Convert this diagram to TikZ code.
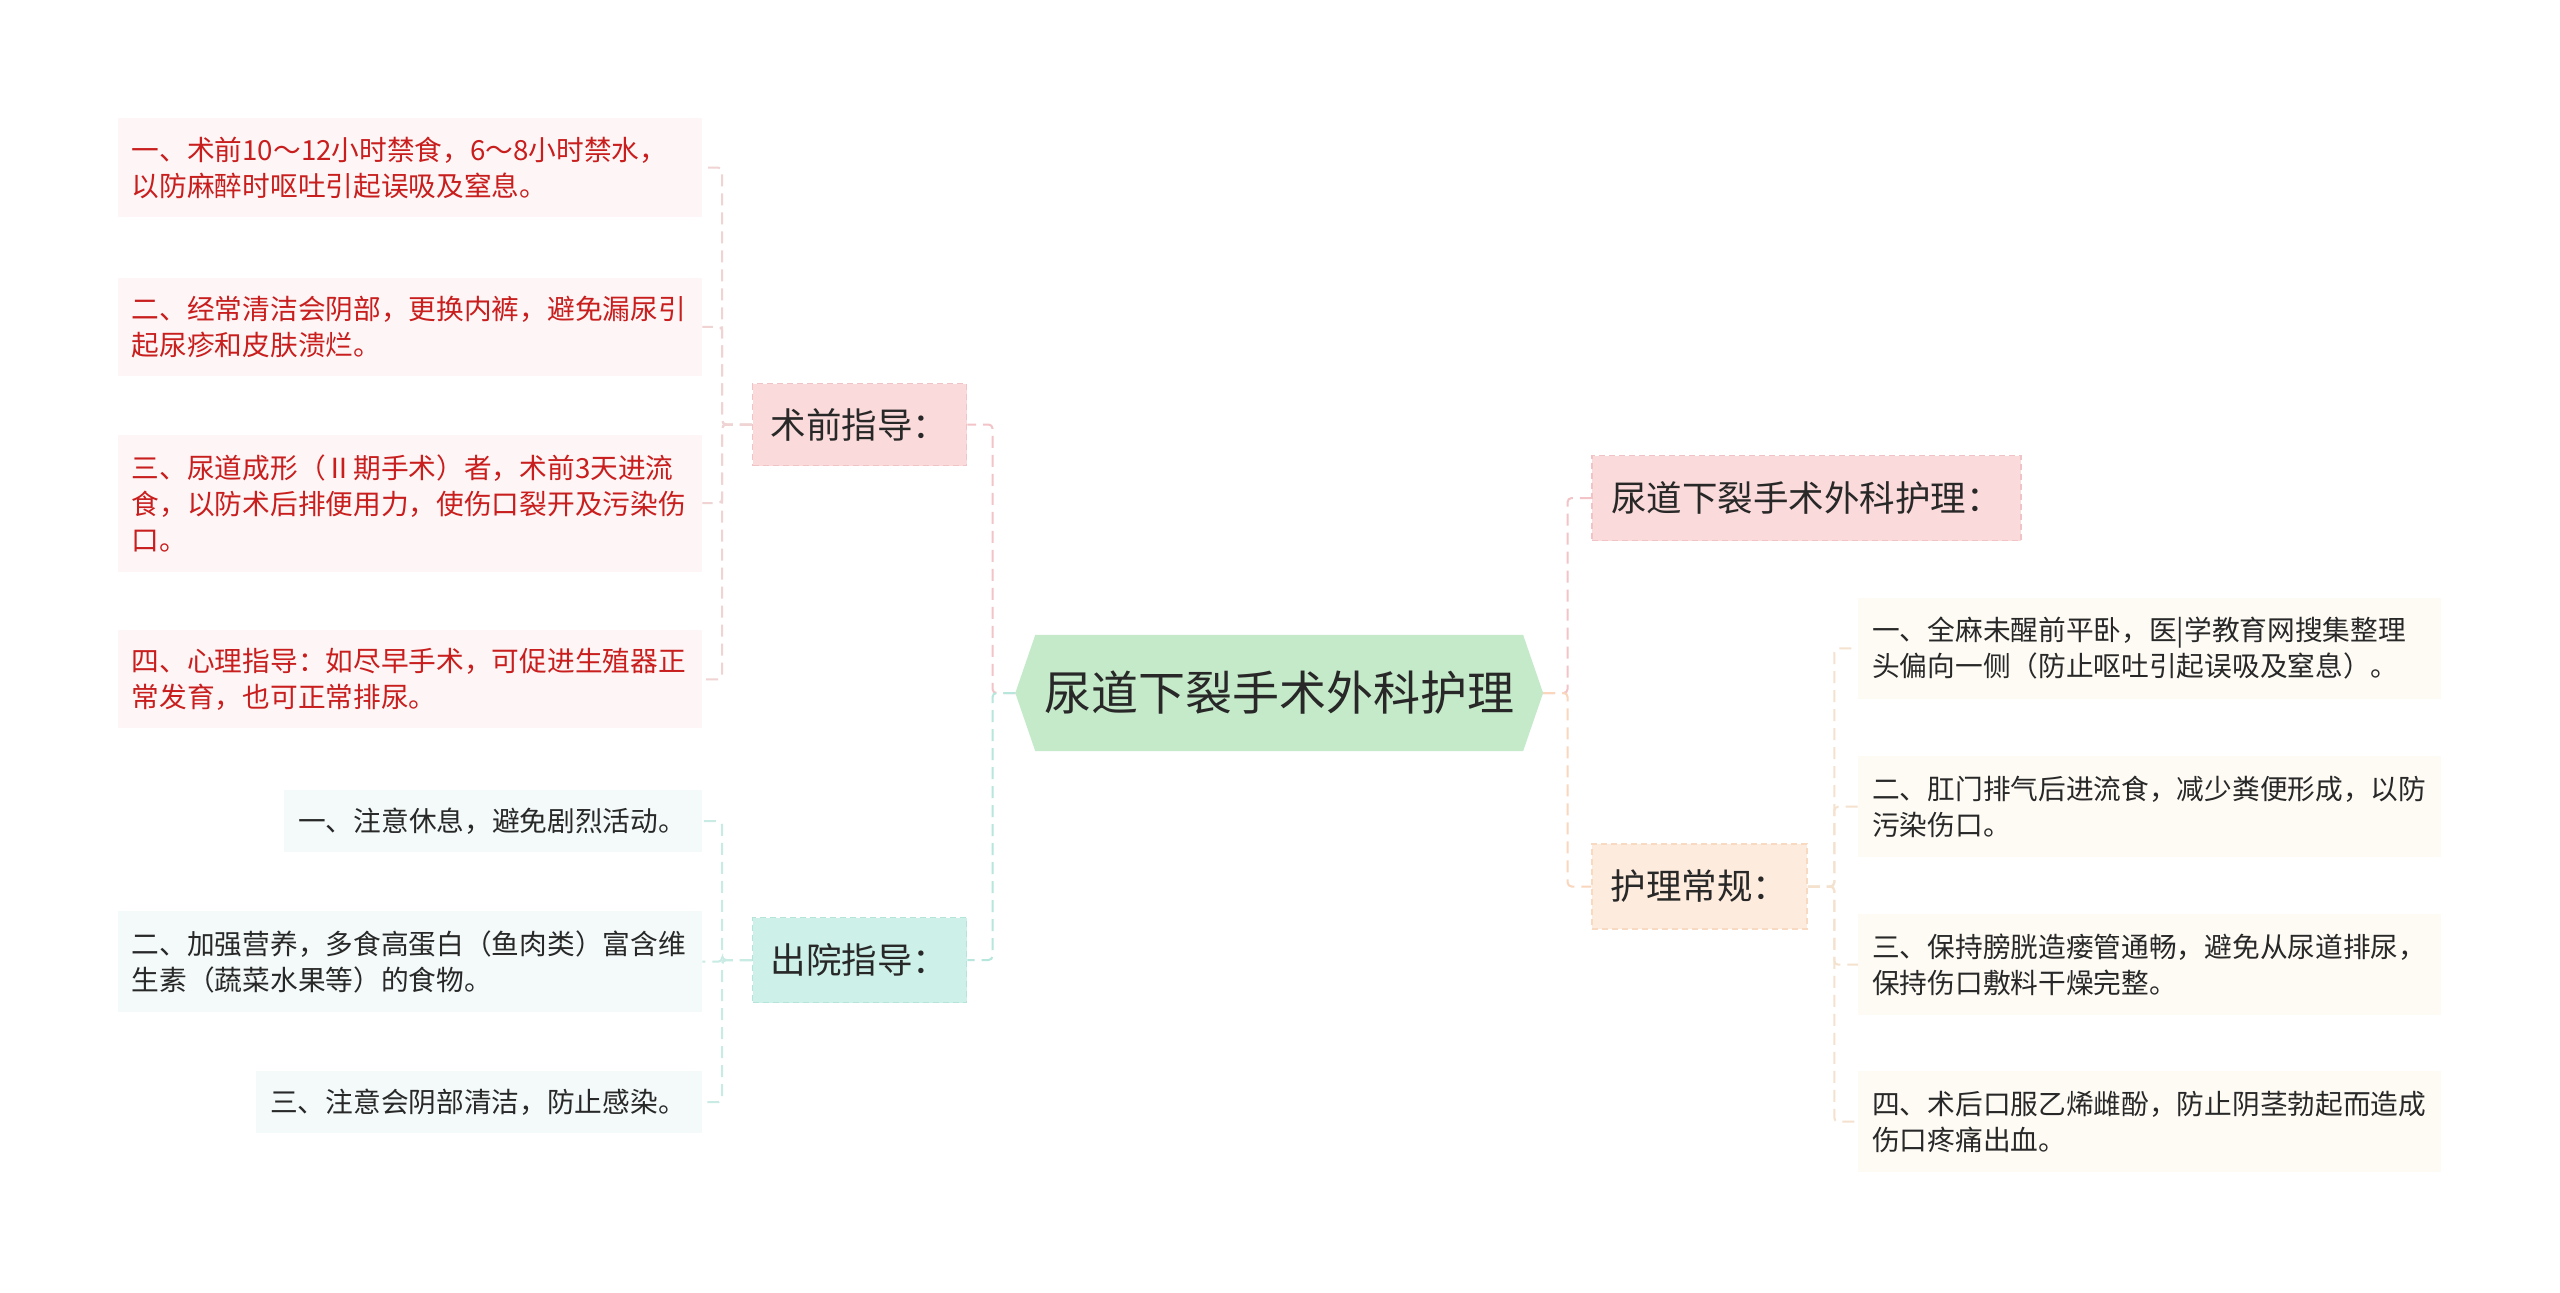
\documentclass[tikz,border=0pt]{standalone}
\usepackage{fontspec}
\setmainfont{Noto Sans CJK SC}
\usetikzlibrary{calc}
\pgfdeclarelayer{bg}
\pgfsetlayers{bg,main}
\definecolor{txtdark}{RGB}{40,40,40}
\definecolor{txtred}{RGB}{200,30,30}
\definecolor{pinkfill}{RGB}{250,218,218}
\definecolor{pinkedge}{RGB}{240,196,198}
\definecolor{pinkitem}{RGB}{254,246,246}
\definecolor{greenfill}{RGB}{197,234,201}
\definecolor{tealfill}{RGB}{205,240,232}
\definecolor{tealedge}{RGB}{180,228,218}
\definecolor{tealitem}{RGB}{243,250,249}
\definecolor{peachfill}{RGB}{253,236,222}
\definecolor{peachedge}{RGB}{248,218,194}
\definecolor{creamitem}{RGB}{254,251,245}
\definecolor{pinkline}{RGB}{242,196,200}
\definecolor{tealline}{RGB}{182,230,220}
\definecolor{peachline}{RGB}{249,214,188}
\definecolor{pinkline2}{RGB}{240,212,212}
\definecolor{tealline2}{RGB}{200,235,228}
\definecolor{peachline2}{RGB}{244,226,206}
\begin{document}
\begin{tikzpicture}[x=1pt,y=-1pt,
  conn/.style={line width=2pt, dash pattern=on 12pt off 7pt, rounded corners=4pt},
  lvone/.style={font=\fontsize{35.5}{42}\selectfont, text=txtdark, inner sep=0pt, draw, line width=1.5pt, dash pattern=on 6pt off 4pt},
  itembox/.style={anchor=north west, inner xsep=14pt, inner ysep=0pt, align=left, font=\fontsize{27.7}{36}\selectfont},
]
\useasboundingbox (0,0) rectangle (2560,1293);

% center
\node[font=\fontsize{47}{56}\selectfont, text=txtdark, minimum width=527.4pt, minimum height=116pt, inner sep=0pt] (c) at (1279.2,693) {尿道下裂手术外科护理};

% level one
\node[lvone, fill=pinkfill, draw=pinkedge, minimum width=214pt, minimum height=82pt] (pre) at (859.6,424.5) {术前指导：};
\node[lvone, fill=tealfill, draw=tealedge, minimum width=214pt, minimum height=85pt] (dis) at (859.6,960) {出院指导：};
\node[lvone, fill=pinkfill, draw=pinkedge, minimum width=429pt, minimum height=85pt] (r0) at (1806.5,498) {尿道下裂手术外科护理：};
\node[lvone, fill=peachfill, draw=peachedge, minimum width=215pt, minimum height=85pt] (r1) at (1699.5,886.5) {护理常规：};

% pre-op items
\node[itembox, fill=pinkitem, text=txtred, text width=556.4pt, minimum height=99.5pt] (p1) at (117.6,117.6) {一、术前10～12小时禁食，6～8小时禁水，\\以防麻醉时呕吐引起误吸及窒息。};
\node[itembox, fill=pinkitem, text=txtred, text width=556.4pt, minimum height=98pt] (p2) at (117.6,277.6) {二、经常清洁会阴部，更换内裤，避免漏尿引\\起尿疹和皮肤溃烂。};
\node[itembox, fill=pinkitem, text=txtred, text width=556.4pt, minimum height=137pt] (p3) at (117.6,434.3) {三、尿道成形（Ⅱ期手术）者，术前3天进流\\食，以防术后排便用力，使伤口裂开及污染伤\\口。};
\node[itembox, fill=pinkitem, text=txtred, text width=556.4pt, minimum height=98pt] (p4) at (117.6,630.2) {四、心理指导：如尽早手术，可促进生殖器正\\常发育，也可正常排尿。};

% discharge items
\node[itembox, fill=tealitem, text=txtdark, text width=390pt, minimum height=62pt] (d1) at (284,790) {一、注意休息，避免剧烈活动。};
\node[itembox, fill=tealitem, text=txtdark, text width=556.4pt, minimum height=101pt] (d2) at (117.6,911) {二、加强营养，多食高蛋白（鱼肉类）富含维\\生素（蔬菜水果等）的食物。};
\node[itembox, fill=tealitem, text=txtdark, text width=418pt, minimum height=62pt] (d3) at (256,1071) {三、注意会阴部清洁，防止感染。};

% right items
\node[itembox, fill=creamitem, text=txtdark, text width=555pt, minimum height=101pt] (i1) at (1858,597.6) {一、全麻未醒前平卧，医|学教育网搜集整理\\头偏向一侧（防止呕吐引起误吸及窒息）。};
\node[itembox, fill=creamitem, text=txtdark, text width=555pt, minimum height=101pt] (i2) at (1858,756) {二、肛门排气后进流食，减少粪便形成，以防\\污染伤口。};
\node[itembox, fill=creamitem, text=txtdark, text width=555pt, minimum height=101pt] (i3) at (1858,914) {三、保持膀胱造瘘管通畅，避免从尿道排尿，\\保持伤口敷料干燥完整。};
\node[itembox, fill=creamitem, text=txtdark, text width=555pt, minimum height=101pt] (i4) at (1858,1071) {四、术后口服乙烯雌酚，防止阴茎勃起而造成\\伤口疼痛出血。};

\begin{pgfonlayer}{bg}
\fill[white] (0,0) rectangle (2560,1293);
\fill[greenfill] (c.west) -- ($(c.north west)+(20,0)$) -- ($(c.north east)+(-20,0)$) -- (c.east) -- ($(c.south east)+(-20,0)$) -- ($(c.south west)+(20,0)$) -- cycle;

\draw[conn, pinkline] (c.west) -- ++(-22.8,0) |- (pre.east);
\draw[conn, tealline] (c.west) -- ++(-22.8,0) |- (dis.east);
\draw[conn, pinkline] (c.east) -- ++(24.5,0) |- (r0.west);
\draw[conn, peachline] (c.east) -- ++(24.5,0) |- (r1.west);

\foreach \n in {p1,p2,p3,p4}
  \draw[conn, pinkline2] (pre.west) -- ++(-29.7,0) |- (\n.east);
\foreach \n in {d1,d2,d3}
  \draw[conn, tealline2] (dis.west) -- ++(-29.7,0) |- (\n.east);
\foreach \n in {i1,i2,i3,i4}
  \draw[conn, peachline2] (r1.east) -- ++(26.5,0) |- (\n.west);
\end{pgfonlayer}
\end{tikzpicture}
\end{document}
